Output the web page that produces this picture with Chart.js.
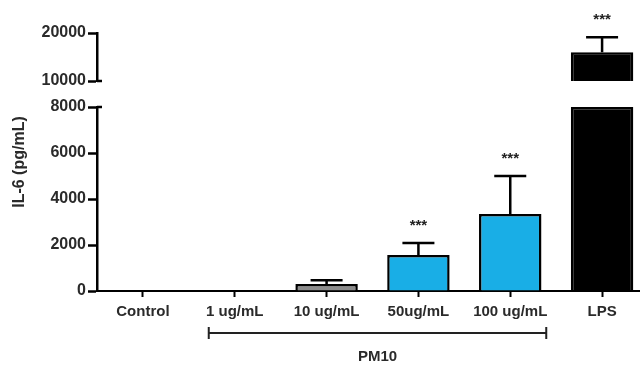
<!DOCTYPE html>
<html>
<head>
<meta charset="utf-8">
<script src="https://cdn.jsdelivr.net/npm/chart.js@4.4.1/dist/chart.umd.min.js"></script>
<style>
  html, body { margin: 0; padding: 0; background: #fff; overflow: hidden; }
  #wrap { position: relative; width: 648px; height: 366px; }
  #topBox { position: absolute; left: 0; top: 0; width: 648px; height: 95px; }
  #bottomBox { position: absolute; left: 0; top: 95px; width: 648px; height: 271px; }
</style>
</head>
<body>
<div id="wrap">
  <div id="topBox"><canvas id="topChart"></canvas></div>
  <div id="bottomBox"><canvas id="bottomChart"></canvas></div>
</div>
<script>
// Data
const categories = ['Control', '1 ug/mL', '10 ug/mL', '50ug/mL', '100 ug/mL', 'LPS'];
const il6Mean = [0, 0, 300, 1560, 3350, 16000];
const il6Sem = [0, 0, 170, 530, 1650, 3100];
const significance = ['', '', '', '***', '***', '***'];
const barColors = ['#ffffff', '#ffffff', '#8c8c8c', '#19aee6', '#19aee6', '#000000'];
const lowerTicks = [0, 2000, 4000, 6000, 8000];
const upperTicks = [10000, 20000];
const groupLabel = 'PM10';
const groupRange = [1, 4]; // first and last category under the bracket

const lowerMax = lowerTicks[lowerTicks.length - 1];
const upperMin = upperTicks[0];
const upperMax = upperTicks[upperTicks.length - 1];

Chart.defaults.font.family = '"Liberation Sans", Arial, sans-serif';
Chart.defaults.font.weight = 'bold';
Chart.defaults.font.size = 15;
Chart.defaults.color = '#2a2a2a';

// error bars (upward only) and significance stars
const errorBarPlugin = {
  id: 'errorBars',
  afterDatasetsDraw(chart) {
    const ctx = chart.ctx;
    const x = chart.scales.x, y = chart.scales.y;
    ctx.save();
    ctx.strokeStyle = '#000';
    ctx.fillStyle = '#222';
    ctx.lineWidth = 2.5;
    il6Mean.forEach((m, i) => {
      const top = m + il6Sem[i];
      if (!il6Sem[i] || top > y.max || top < y.min) return;
      const cx = x.getPixelForValue(i);
      const yBar = y.getPixelForValue(m);
      const yTop = y.getPixelForValue(top);
      ctx.beginPath();
      ctx.moveTo(cx, yBar);
      ctx.lineTo(cx, yTop);
      ctx.moveTo(cx - 16, yTop);
      ctx.lineTo(cx + 16, yTop);
      ctx.stroke();
      if (significance[i]) {
        ctx.font = 'bold 15px "Liberation Sans", Arial, sans-serif';
        ctx.textAlign = 'center';
        ctx.textBaseline = 'middle';
        ctx.fillText(significance[i], cx, yTop - 17);
      }
    });
    ctx.restore();
  }
};

// little ticks poking right of the axis where it is broken
const breakPlugin = {
  id: 'breakTicks',
  afterDraw(chart, args, opts) {
    const ctx = chart.ctx;
    const y = chart.scales.y;
    const yy = y.getPixelForValue(opts.value);
    ctx.save();
    ctx.strokeStyle = '#000';
    ctx.lineWidth = 2.5;
    ctx.beginPath();
    ctx.moveTo(chart.chartArea.left, yy);
    ctx.lineTo(chart.chartArea.left + 5, yy);
    ctx.stroke();
    ctx.restore();
  }
};

// y title and PM10 bracket on the lower chart
const extrasPlugin = {
  id: 'extras',
  afterDraw(chart) {
    const ctx = chart.ctx;
    const x = chart.scales.x;
    ctx.save();
    ctx.fillStyle = '#2a2a2a';
    ctx.font = 'bold 16px "Liberation Sans", Arial, sans-serif';
    ctx.textAlign = 'center';
    ctx.textBaseline = 'middle';
    ctx.translate(20, 67);
    ctx.rotate(-Math.PI / 2);
    ctx.fillText('IL-6 (pg/mL)', 0, 0);
    ctx.restore();

    const x0 = x.getPixelForValue(groupRange[0]) - 26;
    const x1 = x.getPixelForValue(groupRange[1]) + 36;
    const yb = 238;
    ctx.save();
    ctx.strokeStyle = '#222';
    ctx.lineWidth = 2;
    ctx.beginPath();
    ctx.moveTo(x0, yb); ctx.lineTo(x1, yb);
    ctx.moveTo(x0, yb - 6); ctx.lineTo(x0, yb + 6);
    ctx.moveTo(x1, yb - 6); ctx.lineTo(x1, yb + 6);
    ctx.stroke();
    ctx.fillStyle = '#2a2a2a';
    ctx.font = 'bold 15px "Liberation Sans", Arial, sans-serif';
    ctx.textAlign = 'center';
    ctx.textBaseline = 'middle';
    ctx.fillText(groupLabel, (x0 + x1) / 2, 262);
    ctx.restore();
  }
};

function yAxis(min, max, ticks) {
  return {
    min: min,
    max: max,
    afterBuildTicks: scale => { scale.ticks = ticks.map(v => ({ value: v })); },
    afterFit: scale => { scale.width = 97; },
    ticks: { padding: 2, font: { size: 16 }, callback: v => String(v) },
    grid: { drawOnChartArea: false, tickLength: 9, tickWidth: 2.5, tickColor: '#000' },
    border: { color: '#000', width: 2.5 }
  };
}

const barOptions = {
  backgroundColor: barColors,
  borderColor: '#000',
  borderWidth: 2.5,
  categoryPercentage: 1,
  barPercentage: 0.68
};

// upper part of the broken axis
const topChart = new Chart(document.getElementById('topChart'), {
  type: 'bar',
  data: {
    labels: categories,
    datasets: [Object.assign({
      data: il6Mean.map(v => v > upperMin ? [upperMin, v] : null)
    }, barOptions)]
  },
  options: {
    responsive: true,
    maintainAspectRatio: false,
    animation: false,
    layout: { padding: { top: 33, bottom: 14, left: 0, right: 0 } },
    plugins: {
      legend: { display: false },
      tooltip: { enabled: false },
      breakTicks: { value: upperMin }
    },
    scales: {
      x: { display: false },
      y: yAxis(upperMin, upperMax, upperTicks)
    }
  },
  plugins: [errorBarPlugin, breakPlugin]
});

// lower part of the broken axis
const bottomChart = new Chart(document.getElementById('bottomChart'), {
  type: 'bar',
  data: {
    labels: categories,
    datasets: [Object.assign({
      data: il6Mean.map(v => Math.min(v, lowerMax))
    }, barOptions)]
  },
  options: {
    responsive: true,
    maintainAspectRatio: false,
    animation: false,
    layout: { padding: { top: 12, bottom: 0, left: 0, right: 0 } },
    plugins: {
      legend: { display: false },
      tooltip: { enabled: false },
      breakTicks: { value: lowerMax }
    },
    scales: {
      x: {
        afterFit: scale => { scale.height = 75; },
        ticks: { padding: 6, maxRotation: 0 },
        grid: { offset: false, drawOnChartArea: false, tickLength: 6, tickWidth: 2, tickColor: '#000' },
        border: { color: '#000', width: 2 }
      },
      y: yAxis(0, lowerMax, lowerTicks)
    }
  },
  plugins: [errorBarPlugin, breakPlugin, extrasPlugin]
});
</script>
</body>
</html>
